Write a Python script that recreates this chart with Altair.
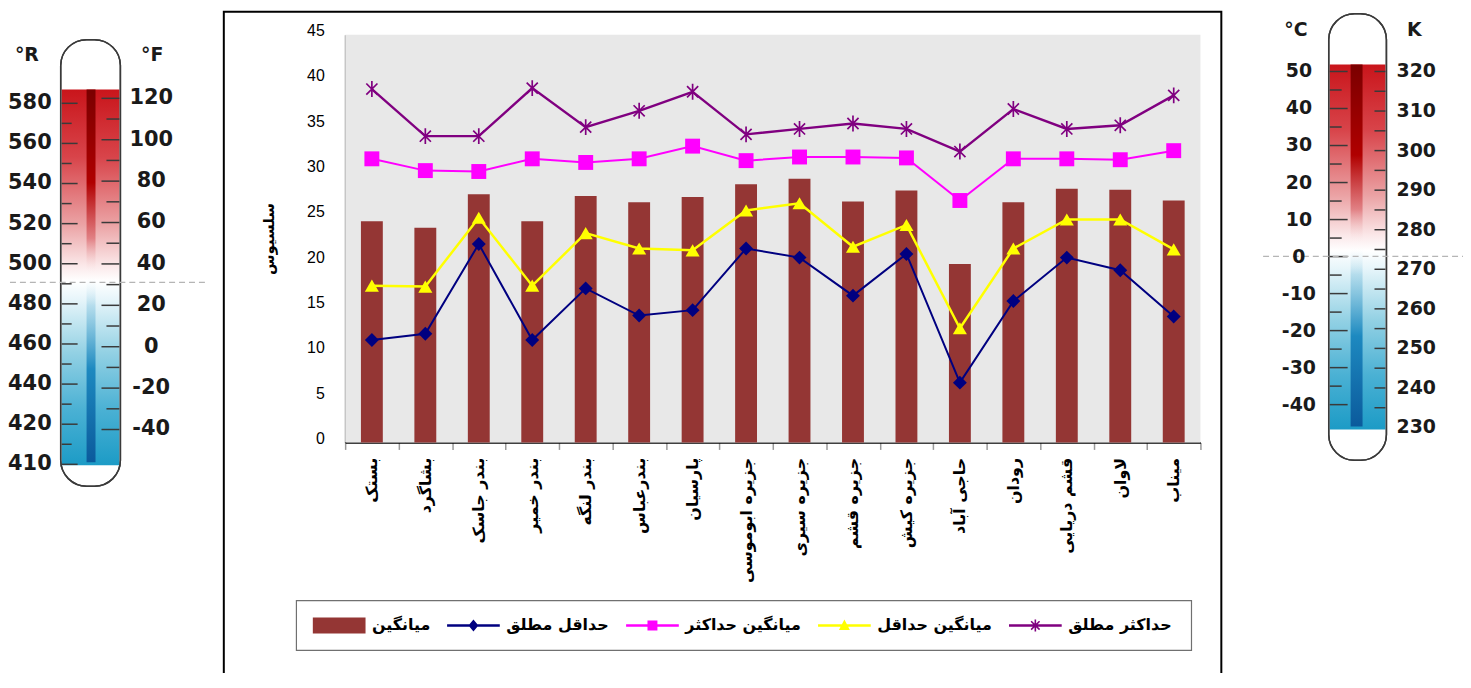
import math
import altair as alt
import pandas as pd

# ---------------- data ----------------
stations = ["بستک", "بشاگرد", "بندر جاسک", "بندر خمیر", "بندر لنگه", "بندرعباس", "پارسیان",
            "جزیره ابوموسی", "جزیره سیری", "جزیره قشم", "جزیره کیش", "حاجی آباد", "رودان",
            "قشم دریایی", "لاوان", "میناب"]
mean_t = [24.4, 23.7, 27.4, 24.4, 27.2, 26.5, 27.1, 28.5, 29.1, 26.6, 27.8, 19.7, 26.5, 28.0, 27.9, 26.7]
abs_min = [11.3, 12.0, 21.9, 11.3, 17.0, 14.0, 14.6, 21.4, 20.4, 16.2, 20.8, 6.6, 15.6, 20.4, 19.0, 13.9]
mean_max = [31.3, 30.0, 29.9, 31.3, 30.9, 31.3, 32.7, 31.1, 31.5, 31.5, 31.4, 26.7, 31.3, 31.3, 31.2, 32.2]
mean_min = [17.3, 17.2, 24.8, 17.3, 23.1, 21.4, 21.2, 25.6, 26.4, 21.6, 24.0, 12.6, 21.4, 24.6, 24.6, 21.3]
abs_max = [39.0, 33.8, 33.8, 39.1, 34.8, 36.6, 38.7, 34.0, 34.6, 35.2, 34.6, 32.1, 36.8, 34.6, 35.0, 38.3]

series_names = ["میانگین", "حداقل مطلق", "میانگین حداکثر", "میانگین حداقل", "حداکثر مطلق"]
series_colors = ["#943634", "#000080", "#ff00ff", "#ffff00", "#800080"]
y_ticks = [0, 5, 10, 15, 20, 25, 30, 35, 40, 45]
y_title = "سلسیوس"

# thermometer scales (decorative)
r_labels = ["580", "560", "540", "520", "500", "480", "460", "440", "420", "410"]
r_label_pos = [0, 1, 2, 3, 4, 5, 6, 7, 8, 9]
r_mid_pos = [0.5, 1.5, 2.5, 3.5, 4.5, 5.5, 6.5, 7.5, 8.5]
f_labels = [120, 100, 80, 60, 40, 20, 0, -20, -40]
f_mid = [110, 90, 70, 50, 30, 10, -10, -30]
c_labels = [50, 40, 30, 20, 10, 0, -10, -20, -30, -40]
c_mid = [45, 35, 25, 15, 5, -5, -15, -25, -35]
k_labels = [320, 310, 300, 290, 280, 270, 260, 250, 240, 230]
k_ticks = [320, 315, 310, 305, 300, 295, 290, 285, 280, 275, 270, 265, 260, 255, 250, 245, 240, 235]

FA = "DejaVu Sans"
NUM = "Liberation Sans"

# ---------------- main chart ----------------
x_axis = alt.Axis(title=None, labelAngle=270, labelAlign="right", labelBaseline="middle",
                  labelFont=FA, labelFontSize=16, labelFontWeight="bold", labelColor="black",
                  labelPadding=8, labelOverlap=False, labelLimit=300, tickBand="extent",
                  tickColor="#9a9a9a", tickSize=7, tickWidth=1.5, domainColor="black",
                  domainWidth=1.5, grid=False)
y_axis = alt.Axis(title=y_title, values=y_ticks, titleFont=FA, titleFontSize=15,
                  titleFontWeight="bold", titleColor="black", titlePadding=30,
                  labelFont=NUM, labelFontSize=16, labelColor="black", ticks=False,
                  labelPadding=21, labelOffset=-4, domainColor="black", domainWidth=1.5,
                  grid=False)

X = alt.X("station:N", sort=stations, scale=alt.Scale(paddingInner=0, paddingOuter=0), axis=x_axis)
Y = alt.Y("value:Q", scale=alt.Scale(domain=[0, 45], nice=False), axis=y_axis)

def series_df(vals):
    return pd.DataFrame({"station": stations, "value": vals, "idx": list(range(len(stations)))})

one = pd.DataFrame({"k": [0]})

plot_bg = alt.Chart(one).mark_rect(fill="#e8e8e8").encode(
    x=alt.value(0), x2=alt.value(860), y=alt.value(0), y2=alt.value(410))

bars = alt.Chart(series_df(mean_t)).mark_bar(color=series_colors[0], size=22).encode(x=X, y=Y)

asterisk = "M-0.7,-0.7L0.7,0.7M-0.7,0.7L0.7,-0.7M0,-1L0,1"
specs = [
    (abs_min, series_colors[1], "diamond", 196, True, 2.0, 1),
    (mean_max, series_colors[2], "square", 225, True, 2.0, 1),
    (mean_min, series_colors[3], "triangle-up", 200, True, 2.5, 1),
    (abs_max, series_colors[4], asterisk, 256, False, 2.4, 1.7),
]
main_layers = [bars]
for vals, col, shp, sz, filled, lw, sw in specs:
    d = series_df(vals)
    main_layers.append(alt.Chart(d).mark_line(color=col, strokeWidth=lw).encode(
        x=X, y=Y, order=alt.Order("idx:Q")))
    main_layers.append(alt.Chart(d).mark_point(shape=shp, size=sz, filled=filled, color=col,
                                                opacity=1, strokeWidth=sw).encode(x=X, y=Y))

# legend symbols (custom paths; 1 unit = 10 px with symbolSize 400)
def rect_path(x0, y0, x1, y1):
    return f"M{x0},{y0}H{x1}V{y1}H{x0}Z"

def rot_bar(angle_deg, hl, hw):
    a = math.radians(angle_deg)
    pts = [(-hw, -hl), (hw, -hl), (hw, hl), (-hw, hl)]
    rp = [(px * math.cos(a) - py * math.sin(a), px * math.sin(a) + py * math.cos(a)) for px, py in pts]
    return "M" + "L".join(f"{px:.3f},{py:.3f}" for px, py in rp) + "Z"

line_part = rect_path(-2.65, -0.12, 2.65, 0.12)
legend_paths = [
    rect_path(-2.65, -0.8, 2.65, 0.8),
    line_part + "M0,-0.6L0.5,0L0,0.6L-0.5,0Z",
    line_part + rect_path(-0.5, -0.5, 0.5, 0.5),
    line_part + "M0,-0.6L0.55,0.45L-0.55,0.45Z",
    line_part + rot_bar(0, 0.6, 0.08) + rot_bar(45, 0.6, 0.08) + rot_bar(-45, 0.6, 0.08),
]
leg = alt.Legend(title=None, orient="none", legendX=-16, legendY=584, direction="horizontal",
                 labelFont=FA, labelFontSize=16, labelFontWeight="bold", labelColor="black",
                 symbolSize=400, symbolStrokeWidth=0, symbolOpacity=1,
                 padding=0, labelOffset=23, columnPadding=16, labelLimit=300)
legend_layer = alt.Chart(pd.DataFrame({"series": series_names})).mark_point(
    filled=True, size=400).encode(
    x=alt.value(-5000), y=alt.value(-5000),
    color=alt.Color("series:N", scale=alt.Scale(domain=series_names, range=series_colors), legend=leg),
    shape=alt.Shape("series:N", scale=alt.Scale(domain=series_names, range=legend_paths), legend=leg),
)
main_layers.append(legend_layer)
main = alt.layer(*main_layers)

# ---------------- decorations ----------------
frame = alt.Chart(one).mark_rect(fillOpacity=0, stroke="black", strokeWidth=2).encode(
    x=alt.value(-122), x2=alt.value(881), y=alt.value(-23), y2=alt.value(720))
legend_box = alt.Chart(one).mark_rect(fill="white", stroke="#707070", strokeWidth=1.2).encode(
    x=alt.value(-49), x2=alt.value(851), y=alt.value(569), y2=alt.value(619))

def grad(stops):
    return alt.LinearGradient(gradient="linear", x1=0, y1=0, x2=0, y2=1,
                              stops=[alt.GradientStop(offset=o, color=c) for o, c in stops])

body_grad = grad([(0, "#c9151b"), (0.18, "#d8444a"), (0.36, "#eba3a5"), (0.47, "#fbe9ea"),
                  (0.51, "#ffffff"), (0.56, "#e6f5fa"), (0.7, "#93d1e4"), (0.85, "#4bb1d4"),
                  (1, "#1c9bc6")])
stripe_grad = grad([(0, "#7a0000"), (0.25, "#b00000"), (0.4, "rgba(215,90,95,0.6)"),
                    (0.5, "rgba(255,255,255,0)"), (0.58, "rgba(140,200,225,0.5)"),
                    (0.75, "#1d89c0"), (1, "#0b5a9c")])

def thermometer(ox1, ox2, oy1, oy2, fx1, fx2, fy1, fy2, sx1, sx2):
    outline = alt.Chart(one).mark_rect(cornerRadius=26, fill="white", stroke="#3a3a3a",
                                       strokeWidth=1.5).encode(
        x=alt.value(ox1), x2=alt.value(ox2), y=alt.value(oy1), y2=alt.value(oy2))
    body = alt.Chart(one).mark_rect(fill=body_grad).encode(
        x=alt.value(fx1), x2=alt.value(fx2), y=alt.value(fy1), y2=alt.value(fy2))
    stripe = alt.Chart(one).mark_rect(fill=stripe_grad).encode(
        x=alt.value(sx1), x2=alt.value(sx2), y=alt.value(fy1), y2=alt.value(fy2 - 3))
    edge = alt.Chart(one).mark_rect(cornerRadius=26, fillOpacity=0, stroke="#3a3a3a",
                                    strokeWidth=1.5).encode(
        x=alt.value(ox1), x2=alt.value(ox2), y=alt.value(oy1), y2=alt.value(oy2))
    return [outline, body, stripe, edge]

def ticks(vals, scale, xa, xb):
    return alt.Chart(pd.DataFrame({"v": vals})).mark_rule(color="#3a3a3a", strokeWidth=1.5).encode(
        y=alt.Y("v:Q", scale=scale, axis=None), x=alt.value(xa), x2=alt.value(xb))

def labels(vals, texts, scale, cx, size):
    return alt.Chart(pd.DataFrame({"v": vals, "t": texts})).mark_text(
        font=FA, fontSize=size, fontWeight="bold", color="#1a1a1a", align="center",
        baseline="middle").encode(y=alt.Y("v:Q", scale=scale, axis=None), text="t:N", x=alt.value(cx))

def title_text(t, cx, cy, size):
    return alt.Chart(one).mark_text(font=FA, fontSize=size, fontWeight="bold", color="#1a1a1a",
                                    align="center", baseline="middle").encode(
        x=alt.value(cx), y=alt.value(cy), text=alt.value(t))

def dashed(xa, xb, yy):
    return alt.Chart(one).mark_rule(color="#b5b5b5", strokeWidth=1.2, strokeDash=[6, 4]).encode(
        x=alt.value(xa), x2=alt.value(xb), y=alt.value(yy))

R_SCALE = alt.Scale(domain=[0, 9], range=[69, 432], nice=False, zero=False)
F_SCALE = alt.Scale(domain=[-40, 120], range=[397, 64], nice=False, zero=False)
C_SCALE = alt.Scale(domain=[-40, 50], range=[372, 37], nice=False, zero=False)
K_SCALE = alt.Scale(domain=[230, 320], range=[395, 37], nice=False, zero=False)

left = thermometer(-286, -226, 5, 454, -285, -227, 55, 433, -260, -251)
left += [
    ticks(r_label_pos, R_SCALE, -285, -269),
    ticks(r_mid_pos, R_SCALE, -285, -275),
    ticks(f_labels, F_SCALE, -245, -227),
    ticks(f_mid, F_SCALE, -240, -227),
    dashed(-347, -137, 249),
    labels(r_label_pos, r_labels, R_SCALE, -317, 21),
    labels(f_labels, [str(v) for v in f_labels], F_SCALE, -195, 21),
    title_text("°R", -320, 20, 19),
    title_text("°F", -194, 20, 19),
]

right = thermometer(989, 1047, -21, 428, 990, 1046, 30, 397, 1011, 1023)
right += [
    ticks(c_labels, C_SCALE, 990, 1008),
    ticks(c_mid, C_SCALE, 990, 1002),
    ticks(k_ticks, K_SCALE, 1035, 1046),
    dashed(923, 1124, 223),
    labels(c_labels, [str(v) for v in c_labels], C_SCALE, 959, 19),
    labels(k_labels, [str(v) for v in k_labels], K_SCALE, 1077, 19),
    title_text("°C", 956, -5, 19),
    title_text("K", 1075, -5, 19),
]

chart = alt.layer(frame, legend_box, plot_bg, *left, *right, main).resolve_scale(
    y="independent").properties(
    width=860, height=410,
    autosize=alt.AutoSizeParams(type="none"),
    padding={"left": 339, "top": 25, "right": 264, "bottom": 230},
).configure_view(stroke="transparent")

chart.save("out.html", embed_options={"renderer": "svg", "actions": False})
